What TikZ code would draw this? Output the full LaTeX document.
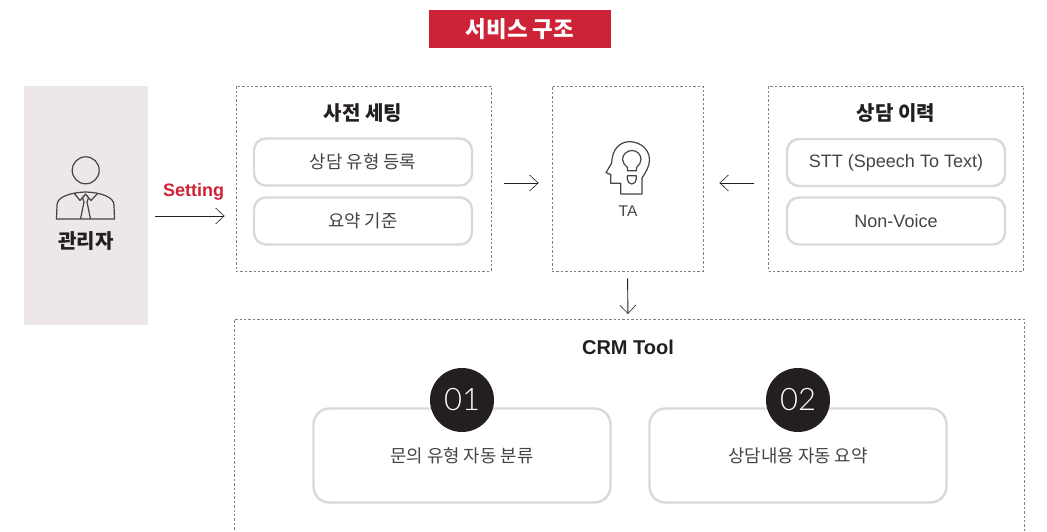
\documentclass[tikz,border=0pt]{standalone}
\usepackage{fontspec}
\setmainfont{Noto Sans CJK KR}
\newfontfamily\latinfont{Liberation Sans}
\newfontfamily\numfont{Lato Light}
\usepackage{xcolor}
\definecolor{svcred}{HTML}{CE2236}
\definecolor{panelgray}{HTML}{EDE7E7}
\definecolor{boxgray}{HTML}{D9D9D9}
\definecolor{inkdark}{HTML}{231F20}
\definecolor{inkbody}{HTML}{444444}
\usetikzlibrary{arrows.meta}

\begin{document}
\begin{tikzpicture}[x=1pt,y=-1pt,>={Straight Barb[length=8.5pt,width=16pt,line width=0.6pt]},line width=0.9pt]
              \tikzstyle{dbox}=[draw=black!50,line width=0.9pt,dash pattern=on 2.4pt off 2pt,inner sep=0pt]
              \tikzstyle{item}=[draw=boxgray,line width=2.4pt,rounded corners=12pt,minimum width=218pt,minimum height=47pt,text=inkbody,font=\fontsize{17.8}{20}\selectfont,inner sep=0pt]
              \tikzstyle{card}=[item,minimum width=297pt,minimum height=94pt,rounded corners=16pt]
              \tikzstyle{num}=[circle,fill=inkdark,text=white,minimum size=64pt,inner sep=0pt,font=\fontsize{31}{36}\numfont]
              \tikzstyle{head}=[text=inkdark,font=\fontsize{20}{24}\selectfont\bfseries,inner sep=0pt]
              \tikzstyle{ar}=[->,draw=inkdark]
              \tikzstyle{icon}=[draw=inkbody,line width=1.2pt,line join=round]

              \useasboundingbox (0,0) rectangle (1047,532);

              \node[fill=svcred,text=white,minimum width=182pt,minimum height=38pt,inner sep=0pt,font=\fontsize{22.4}{26}\selectfont\bfseries] (title) at (520,29.5) {서비스 구조};

              \node[fill=panelgray,minimum width=124pt,minimum height=239pt,inner sep=0pt] (admin) at (86,205.5) {};
              \node[text=inkdark,inner sep=0pt,font=\fontsize{20}{24}\selectfont\bfseries] (adminlabel) at (86,241.5) {관리자};
              \node[text=svcred,inner sep=0pt,font=\fontsize{18}{20}\latinfont\bfseries] (setting) at (193.5,191.5) {Setting};

              \node[dbox,minimum width=255pt,minimum height=185pt] (preset) at (363.5,178.5) {};
              \node[dbox,minimum width=151pt,minimum height=185pt] (ta) at (627.5,178.5) {};
              \node[dbox,minimum width=255pt,minimum height=185pt] (history) at (896,178.5) {};

              \node[head] (presethead) at (363,113.5) {사전 세팅};
              \node[item] (pa) at (363,162) {상담 유형 등록};
              \node[item] (pb) at (363,221) {요약 기준};

              \node[head] (historyhead) at (896,113.5) {상담 이력};
              \node[item,font=\fontsize{18}{20}\latinfont] (ha) at (896,162.5) {STT (Speech To Text)};
              \node[item,font=\fontsize{18}{20}\latinfont] (hb) at (896,221) {Non-Voice};

              \node[text=inkbody,inner sep=0pt,font=\fontsize{15.5}{18}\latinfont] (talabel) at (628,211) {TA};

              % bottom panel runs off the page
              \coordinate (crml) at (234.5,534);
              \coordinate (crmr) at (1024,534);
              \coordinate (crmn) at (628,319);
              \draw[dbox] (crml) |- (crmr |- crmn) -- (crmr);
              \node[head,font=\fontsize{20}{24}\latinfont\bfseries] (crmhead) at (628,347) {CRM Tool};

              \node[card] (ca) at (462,455.5) {문의 유형 자동 분류};
              \node[card] (cb) at (798,455.5) {상담내용 자동 요약};
              \node[num] (na) at (462,400) {01};
              \node[num] (nb) at (798,400) {02};

              % arrows
              \draw[ar,shorten <=7pt,shorten >=11pt] ([yshift=-10.5pt]admin.east) -- ([yshift=-37.5pt]preset.west);
              \draw[ar,shorten <=13pt,shorten >=13pt] ([yshift=-4.5pt]preset.east) -- ([yshift=-4.5pt]ta.west);
              \draw[ar,shorten <=14pt,shorten >=16pt] ([yshift=-4.5pt]history.west) -- ([yshift=-4.5pt]ta.east);
              \draw[ar,shorten <=7pt,shorten >=5pt] (ta.south) -- (crmn);

              % person
              \draw[icon] (85.7,170.3) circle (13.5);
              \draw[icon] (56,219) -- (115,219)
                          (56.5,219) -- (57,205) .. controls (57,197) and (70,192.5) .. (85.5,192) .. controls (101,192.5) and (114,197) .. (114,205) -- (114.5,219)
                          (74,193) -- (80,200.5) -- (85.5,194) -- (91,200.5) -- (98,193)
                          (85.5,194) -- (82.5,198) -- (84,202) -- (80.5,219)
                          (85.5,194) -- (88.5,198) -- (87,202) -- (90.5,219);

              % head with bulb
              \draw[icon] (642,194) -- (642,178) .. controls (646,172) and (649.5,166) .. (649.5,160)
                          .. controls (649.5,149) and (640,141.7) .. (629.5,141.7)
                          .. controls (620,141.7) and (612,149) .. (611.7,163)
                          -- (606,172.7) -- (610.7,174.5) -- (610.7,183.3) -- (620.7,183.3) -- (620.7,194) -- cycle;
              \draw[icon] (627.5,170.7) -- (636.5,170.7) -- (636.5,167.5) .. controls (639,165) and (641,163) .. (641,159.5)
                          .. controls (641,154) and (636.5,150.5) .. (632,150.5)
                          .. controls (627.5,150.5) and (622.5,154) .. (622.5,159.5)
                          .. controls (622.5,163) and (625,165) .. (627.5,167.5) -- cycle;
              \draw[icon] (627.3,175.8) -- (636.3,175.8) -- (636.3,179) .. controls (636.3,182) and (634,184) .. (631.8,184)
                          .. controls (629.5,184) and (627.3,182) .. (627.3,179) -- cycle;
       \end{tikzpicture}
\end{document}
